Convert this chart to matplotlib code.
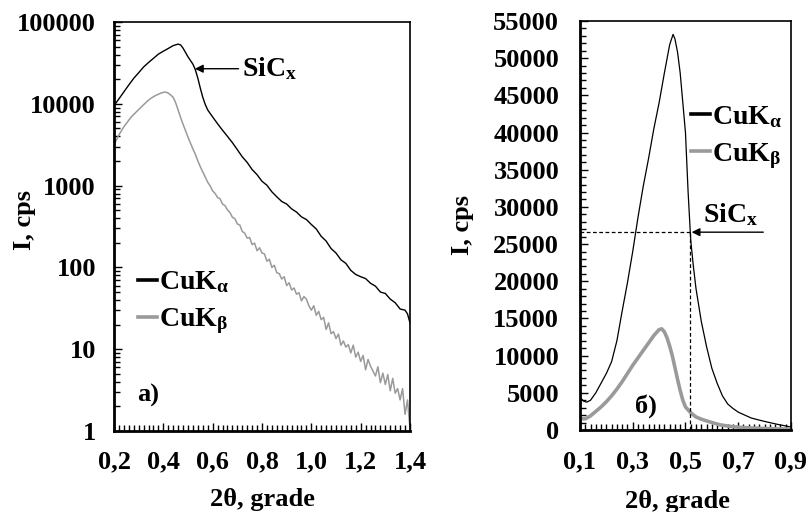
import numpy as np
import matplotlib
matplotlib.use("Agg")
import matplotlib.pyplot as plt
from matplotlib.ticker import MultipleLocator, FixedLocator, FixedFormatter, LogLocator, NullFormatter
from matplotlib.lines import Line2D

plt.rcParams['font.family'] = ['Liberation Serif', 'DejaVu Serif']
plt.rcParams['font.weight'] = 'bold'
plt.rcParams['mathtext.fontset'] = 'custom'
plt.rcParams['mathtext.rm'] = 'Liberation Serif:bold'
plt.rcParams['mathtext.it'] = 'Liberation Serif:bold'
plt.rcParams['mathtext.bf'] = 'Liberation Serif:bold'

# ---------------- data: panel a) (log scale) ----------------
a_alpha_x = [0.20, 0.22, 0.24, 0.26, 0.28, 0.30, 0.32, 0.34, 0.36, 0.38, 0.40, 0.42, 0.44,
             0.46, 0.47, 0.48, 0.50, 0.52, 0.53, 0.54, 0.55, 0.56, 0.57, 0.58, 0.60, 0.62,
             0.64, 0.66, 0.68, 0.70, 0.72, 0.74, 0.76, 0.78, 0.80, 0.82, 0.84, 0.86, 0.88,
             0.90, 0.92, 0.94, 0.96, 0.98, 1.00, 1.02, 1.04, 1.06, 1.08, 1.10, 1.12, 1.14,
             1.16, 1.18, 1.20, 1.22, 1.24, 1.26, 1.28, 1.30, 1.32, 1.34, 1.36, 1.38, 1.39,
             1.40]
a_alpha_y = [9500, 11500, 14000, 17000, 20500, 24000, 28200, 32000, 36000, 40500, 44000,
             47500, 51500, 53700, 52500, 47900, 37500, 30500, 26000, 20500, 15500, 12000,
             9800, 8400, 6900, 5700, 4750, 4000, 3350, 2750, 2250, 1920, 1570, 1360, 1130,
             1010, 840, 730, 640, 595, 520, 475, 415, 385, 335, 295, 240, 210, 170, 150,
             124, 112, 92, 82, 77, 73, 64, 59, 50, 48, 41, 37, 31, 30, 27, 21]

a_beta_x = [0.20, 0.21, 0.22, 0.23, 0.24, 0.25, 0.26, 0.27, 0.28, 0.29, 0.30, 0.31, 0.32,
            0.33, 0.34, 0.35, 0.36, 0.37, 0.38, 0.39, 0.40, 0.41, 0.42, 0.43, 0.44, 0.45,
            0.46, 0.47, 0.48, 0.49, 0.50, 0.51, 0.52, 0.53, 0.54, 0.55, 0.56, 0.57, 0.58,
            0.59, 0.60, 0.61, 0.62, 0.63, 0.64, 0.65, 0.66, 0.67, 0.68, 0.69, 0.70, 0.71,
            0.72, 0.73, 0.74, 0.75, 0.76, 0.77, 0.78, 0.79, 0.80, 0.81, 0.82, 0.83, 0.84,
            0.85, 0.86, 0.87, 0.88, 0.89, 0.90, 0.91, 0.92, 0.93, 0.94, 0.95, 0.96, 0.97,
            0.98, 0.99, 1.00, 1.01, 1.02, 1.03, 1.04, 1.05, 1.06, 1.07, 1.08, 1.09, 1.10,
            1.11, 1.12, 1.13, 1.14, 1.15, 1.16, 1.17, 1.18, 1.19, 1.20, 1.21, 1.22, 1.23,
            1.24, 1.25, 1.26, 1.27, 1.28, 1.29, 1.30, 1.31, 1.32, 1.33, 1.34, 1.35, 1.36,
            1.37, 1.38, 1.39, 1.40]
a_beta_y = [3160, 3630, 4170, 4680, 5250, 5750, 6310, 6920, 7410, 7940, 8510, 9100, 9750,
            10400, 11100, 11700, 12200, 12700, 13100, 13500, 13800, 13900, 13500, 12800,
            12000, 10300, 8400, 6800, 5600, 4700, 3900, 3300, 2800, 2400, 2000, 1700, 1470,
            1270, 1100, 990, 860, 800, 715, 690, 595, 570, 505, 470, 410, 395, 340, 330,
            275, 262, 228, 232, 190, 198, 160, 174, 150, 146, 119, 126, 100, 106, 86, 84,
            72, 77, 60, 65, 53, 56, 47, 49, 39, 44, 41, 34, 30, 34, 26, 29, 23, 24.5,
            17.4, 21, 15.5, 16.4, 13.5, 15.3, 11.2, 12.6, 10.6, 11.4, 9.0, 11.2, 8.0, 9.2,
            7.1, 8.4, 5.6, 7.5, 6.2, 5.4, 4.7, 6.1, 3.9, 5.1, 3.7, 4.9, 3.1, 4.4, 2.9, 3.3,
            2.4, 3.3, 1.6, 2.4, 1.07]

# ---------------- data: panel б) (linear scale) ----------------
b_alpha_x = [0.100, 0.105, 0.115, 0.126, 0.14, 0.16, 0.18, 0.20, 0.22, 0.24, 0.26, 0.28,
             0.30, 0.32, 0.34, 0.36, 0.38, 0.40, 0.42, 0.44, 0.453, 0.46, 0.47, 0.48, 0.49,
             0.50, 0.51, 0.52, 0.53, 0.54, 0.56, 0.58, 0.60, 0.62, 0.64, 0.66, 0.68, 0.70,
             0.75, 0.80, 0.85, 0.90]
b_alpha_y = [4600, 4200, 3850, 3750, 4000, 5000, 6300, 7600, 9200, 12000, 16000, 19800,
             24000, 28600, 32800, 36500, 40500, 44000, 48000, 51800, 53200, 52600, 50800,
             48000, 44000, 40000, 32000, 25500, 22000, 19000, 14600, 11200, 8300, 6300,
             4600, 3500, 2900, 2400, 1600, 1150, 750, 400]

b_beta_x = [0.10, 0.12, 0.14, 0.16, 0.18, 0.20, 0.22, 0.24, 0.26, 0.28, 0.30, 0.32, 0.34,
            0.36, 0.38, 0.40, 0.41, 0.42, 0.43, 0.44, 0.45, 0.46, 0.47, 0.48, 0.49, 0.50,
            0.52, 0.54, 0.56, 0.60, 0.63, 0.67, 0.70, 0.75, 0.80, 0.85, 0.90]
b_beta_y = [1550, 1500, 1900, 2500, 3100, 3800, 4600, 5500, 6500, 7600, 8700, 9700, 10700,
            11700, 12700, 13500, 13600, 13200, 12400, 11300, 10000, 8400, 6800, 5300, 4000,
            3100, 2300, 1750, 1450, 1000, 700, 480, 370, 270, 200, 150, 110]

# tick labels
a_xticks = [0.2, 0.4, 0.6, 0.8, 1.0, 1.2, 1.4]
a_xticklabels = ['0,2', '0,4', '0,6', '0,8', '1,0', '1,2', '1,4']
a_yticks = [1, 10, 100, 1000, 10000, 100000]
a_yticklabels = ['1', '10', '100', '1000', '10000', '100000']
b_xticks = [0.1, 0.3, 0.5, 0.7, 0.9]
b_xticklabels = ['0,1', '0,3', '0,5', '0,7', '0,9']
b_yticks = list(range(0, 55001, 5000))
b_yticklabels = [str(v) for v in b_yticks]

labels = [r'CuK$_{\alpha}$', r'CuK$_{\beta}$']
GRAY = '#9a9a9a'
FS = 19
LFS = 20

fig = plt.figure(figsize=(8.08, 5.12), dpi=100)
axA = fig.add_axes([0.1411, 0.1582, 0.3663, 0.7988])
axB = fig.add_axes([0.7178, 0.1602, 0.2611, 0.7988])

# ---- panel a
axA.plot(a_alpha_x, a_alpha_y, color='black', lw=1.0)
axA.plot(a_beta_x, a_beta_y, color=GRAY, lw=1.1)
axA.set_yscale('log')
axA.set_xlim(0.2, 1.4)
axA.set_ylim(1, 100000)
axA.yaxis.set_major_locator(FixedLocator(a_yticks))
axA.yaxis.set_major_formatter(FixedFormatter(a_yticklabels))
axA.yaxis.set_minor_locator(LogLocator(base=10, subs=np.arange(2, 10), numticks=20))
axA.yaxis.set_minor_formatter(NullFormatter())
axA.xaxis.set_major_locator(FixedLocator(a_xticks))
axA.xaxis.set_major_formatter(FixedFormatter(a_xticklabels))
axA.xaxis.set_minor_locator(MultipleLocator(0.02))

# ---- panel b
axB.plot(b_alpha_x, b_alpha_y, color='black', lw=0.9)
axB.plot(b_beta_x, b_beta_y, color=GRAY, lw=2.6)
axB.set_xlim(0.1, 0.9)
axB.set_ylim(0, 55000)
axB.yaxis.set_major_locator(FixedLocator(b_yticks))
axB.yaxis.set_major_formatter(FixedFormatter(b_yticklabels))
axB.yaxis.set_minor_locator(MultipleLocator(1000))
axB.xaxis.set_major_locator(FixedLocator(b_xticks))
axB.xaxis.set_major_formatter(FixedFormatter(b_xticklabels))
axB.xaxis.set_minor_locator(MultipleLocator(0.02))

for ax in (axA, axB):
    for s in ax.spines.values():
        s.set_linewidth(1.2)
    for s in ('left', 'bottom'):
        ax.spines[s].set_linewidth(2.0)
    ax.tick_params(which='both', direction='in', top=False, right=False, width=1.0)
    ax.tick_params(which='major', length=6)
    ax.tick_params(which='minor', length=4)
    ax.tick_params(axis='both', labelsize=FS)
    for lab in ax.get_xticklabels() + ax.get_yticklabels():
        lab.set_fontweight('bold')

axA.tick_params(axis='y', pad=13)
axA.tick_params(axis='x', pad=14)
axB.tick_params(axis='y', pad=15)
axB.tick_params(axis='x', pad=15)

# axis labels
axA.set_ylabel('I, cps', fontsize=FS, fontweight='bold')
axA.set_xlabel('2θ, grade', fontsize=FS, fontweight='bold')
axB.set_ylabel('I, cps', fontsize=FS, fontweight='bold')
axB.set_xlabel('2θ, grade', fontsize=FS, fontweight='bold')
axA.yaxis.set_label_coords(-0.262, 0.516)
axA.xaxis.set_label_coords(0.5, -0.140)
axB.yaxis.set_label_coords(-0.50, 0.50)
axB.xaxis.set_label_coords(0.46, -0.146)

# legends
handles = [Line2D([], [], color='black', lw=2.6), Line2D([], [], color=GRAY, lw=2.6)]
for ax, anchor in ((axA, (0.08, 0.395)), (axB, (0.525, 0.797))):
    ax.legend(handles, labels, loc='upper left', bbox_to_anchor=anchor, frameon=False,
              handlelength=0.7, handletextpad=0.05, labelspacing=0.4,
              borderpad=0, borderaxespad=0, prop={'size': LFS, 'weight': 'bold'})

# panel letters
axA.text(0.078, 0.071, 'a)', transform=axA.transAxes, fontsize=FS, fontweight='bold',
         va='baseline', ha='left')
axB.text(0.26, 0.042, 'б)', transform=axB.transAxes, fontsize=FS, fontweight='bold',
         va='baseline', ha='left')

# SiCx annotation panel a
peak_a = max(a_alpha_y)
axA.annotate('', xy=(0.528, peak_a / 2), xytext=(0.705, peak_a / 2),
             arrowprops=dict(arrowstyle='-|>', color='black', lw=1.0,
                             mutation_scale=12, shrinkA=0, shrinkB=0))
axA.text(0.72, peak_a / 2, r'SiC$_{x}$', fontsize=20, fontweight='bold',
         va='center', ha='left')

# half-maximum construction panel b
peak_b = max(b_alpha_y)
half = peak_b / 2
ip = b_alpha_y.index(peak_b)
xr = np.interp(half, b_alpha_y[ip:][::-1], b_alpha_x[ip:][::-1])
axB.plot([0.1, xr], [half, half], color='black', lw=0.9, ls=(0, (3, 2)))
axB.plot([xr, xr], [0, half], color='black', lw=0.9, ls=(0, (3, 2)))
axB.annotate('', xy=(xr + 0.005, half), xytext=(0.795, half),
             arrowprops=dict(arrowstyle='-|>', color='black', lw=1.0,
                             mutation_scale=12, shrinkA=0, shrinkB=0))
axB.text(0.672, half + 500, r'SiC$_{x}$', fontsize=20, fontweight='bold',
         va='bottom', ha='center')

fig.savefig('out.png', dpi=100)
